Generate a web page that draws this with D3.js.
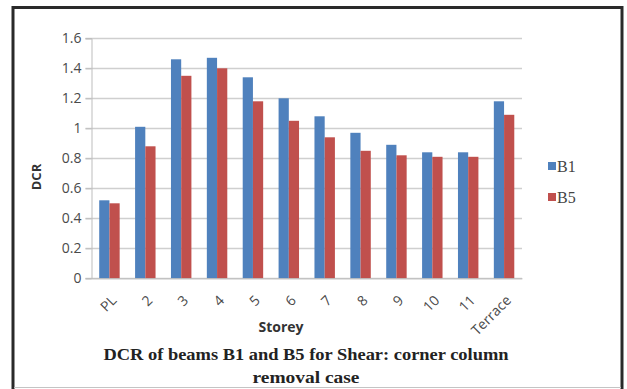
<!DOCTYPE html>
<html>
<head>
<meta charset="utf-8">
<script src="https://cdn.jsdelivr.net/npm/d3@7"></script>
<style>
  body { margin: 0; background: #fff; }
  svg { display: block; }
</style>
</head>
<body>
<div id="chart"></div>
<script>
// Chart data
const storeys = ['PL', '2', '3', '4', '5', '6', '7', '8', '9', '10', '11', 'Terrace'];
const seriesNames = ['B1', 'B5'];
const b1Values = [0.52, 1.01, 1.46, 1.47, 1.34, 1.20, 1.08, 0.97, 0.89, 0.84, 0.84, 1.18];
const b5Values = [0.50, 0.88, 1.35, 1.40, 1.18, 1.05, 0.94, 0.85, 0.82, 0.81, 0.81, 1.09];
const yTicks = [0, 0.2, 0.4, 0.6, 0.8, 1, 1.2, 1.4, 1.6];
const colors = ['#4F81BD', '#C0504D'];

const width = 627, height = 389;
const plot = { left: 91.5, right: 522, top: 38.3, bottom: 278.3 };

const svg = d3.select('#chart').append('svg')
  .attr('width', width)
  .attr('height', height);

// Outer frame (bottom edge runs off the picture)
svg.append('rect')
  .attr('x', 13).attr('y', 7.5)
  .attr('width', 609).attr('height', 400)
  .attr('fill', '#fff')
  .attr('stroke', '#2a2a2a')
  .attr('stroke-width', 3);
svg.append('line')
  .attr('x1', 14).attr('x2', 621)
  .attr('y1', 387.5).attr('y2', 387.5)
  .attr('stroke', '#c4c4c4')
  .attr('stroke-width', 1);

const x = d3.scaleBand()
  .domain(storeys)
  .range([plot.left, plot.right])
  .paddingInner(0.43)
  .paddingOuter(0.215);

const xInner = d3.scaleBand()
  .domain(seriesNames)
  .range([0, x.bandwidth()]);

const y = d3.scaleLinear()
  .domain([0, 1.6])
  .range([plot.bottom, plot.top]);

// Gridlines
svg.append('g')
  .selectAll('line')
  .data(yTicks)
  .enter()
  .append('line')
  .attr('x1', plot.left - 6)
  .attr('x2', plot.right)
  .attr('y1', (d) => Math.round(y(d)) + 0.5)
  .attr('y2', (d) => Math.round(y(d)) + 0.5)
  .attr('stroke', '#cfcfcf')
  .attr('stroke-width', 1.5);

// Y axis labels
const yAxis = svg.append('g')
  .attr('transform', `translate(${plot.left},0)`)
  .call(d3.axisLeft(y).tickValues(yTicks).tickFormat(d3.format('~g')).tickSize(6).tickPadding(4));
yAxis.select('.domain').attr('stroke', '#bdbdbd');
yAxis.selectAll('.tick line').attr('stroke', '#bdbdbd');
yAxis.selectAll('text')
  .attr('font-family', 'Open Sans, sans-serif')
  .attr('font-size', '14px')
  .attr('fill', '#4a4a4a');

// Bars
const groups = svg.append('g')
  .selectAll('g')
  .data(storeys)
  .enter()
  .append('g')
  .attr('transform', (d) => `translate(${x(d)},0)`);

groups.selectAll('rect')
  .data((d, i) => [b1Values[i], b5Values[i]])
  .enter()
  .append('rect')
  .attr('x', (d, j) => xInner(seriesNames[j]))
  .attr('y', (d) => y(d))
  .attr('width', xInner.bandwidth())
  .attr('height', (d) => y(0) - y(d))
  .attr('fill', (d, j) => colors[j]);

// X axis
const xAxis = svg.append('g')
  .attr('transform', `translate(0,${plot.bottom})`)
  .call(d3.axisBottom(x).tickSize(0).tickPadding(0));
xAxis.select('.domain').attr('stroke', '#bdbdbd');
xAxis.selectAll('text')
  .attr('font-family', 'Open Sans, sans-serif')
  .attr('font-size', '14px')
  .attr('fill', '#4a4a4a')
  .attr('text-anchor', 'end')
  .attr('dy', 0)
  .attr('transform', 'translate(8,23) rotate(-45)');

// Axis titles
svg.append('text')
  .attr('x', 281).attr('y', 332)
  .attr('text-anchor', 'middle')
  .attr('font-family', 'Open Sans, sans-serif')
  .attr('font-weight', 'bold')
  .attr('font-size', '14px')
  .attr('fill', '#333')
  .text('Storey');

svg.append('text')
  .attr('transform', 'translate(41,177) rotate(-90)')
  .attr('text-anchor', 'middle')
  .attr('font-family', 'Open Sans, sans-serif')
  .attr('font-weight', 'bold')
  .attr('font-size', '13px')
  .attr('fill', '#333')
  .text('DCR');

// Legend
const legend = svg.append('g')
  .selectAll('g')
  .data(seriesNames)
  .enter()
  .append('g')
  .attr('transform', (d, i) => `translate(548,${166 + i * 31})`);
legend.append('rect')
  .attr('x', 0).attr('y', -4)
  .attr('width', 8).attr('height', 8)
  .attr('fill', (d, i) => colors[i]);
legend.append('text')
  .attr('x', 9).attr('y', 6)
  .attr('font-family', 'Liberation Serif, serif')
  .attr('font-size', '16px')
  .attr('fill', '#444')
  .text((d) => d);

// Chart caption
const caption = ['DCR of beams B1 and B5 for Shear: corner column', 'removal case'];
const captionWidths = [405, 107];
svg.append('g')
  .selectAll('text')
  .data(caption)
  .enter()
  .append('text')
  .attr('x', 306)
  .attr('y', (d, i) => 360 + i * 23)
  .attr('text-anchor', 'middle')
  .attr('font-family', 'Liberation Serif, serif')
  .attr('font-weight', 'bold')
  .attr('font-size', '16px')
  .attr('fill', '#222')
  .attr('textLength', (d, i) => captionWidths[i])
  .attr('lengthAdjust', 'spacingAndGlyphs')
  .text((d) => d);
</script>
</body>
</html>
